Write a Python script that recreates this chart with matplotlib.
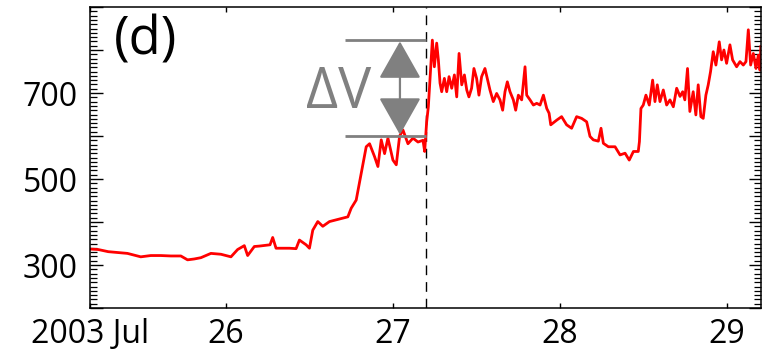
import matplotlib
matplotlib.use("Agg")
import matplotlib.pyplot as plt
from matplotlib.ticker import FixedLocator, MultipleLocator, FuncFormatter

plt.rcParams['font.family'] = ['Open Sans', 'DejaVu Sans']

# Day of July 2003 (fractional) and solar wind speed (km/s)
days = [25.19, 25.235, 25.295, 25.35, 25.41, 25.49, 25.55, 25.61, 25.67, 25.73,
        25.77, 25.81, 25.85, 25.91, 25.97, 26.03, 26.07, 26.11, 26.13, 26.17,
        26.20, 26.264, 26.28, 26.30, 26.38, 26.42, 26.44, 26.48, 26.50, 26.52,
        26.55, 26.58, 26.62, 26.68, 26.73, 26.75, 26.78, 26.81, 26.84, 26.86,
        26.89, 26.91, 26.93, 26.95, 26.97, 27.00, 27.02, 27.04, 27.06, 27.09,
        27.12, 27.15, 27.18, 27.19, 27.202,
        27.212, 27.228, 27.236, 27.248, 27.262, 27.272, 27.282, 27.292, 27.308, 27.322,
        27.336, 27.352, 27.368, 27.382, 27.396, 27.412, 27.428, 27.442, 27.455, 27.471,
        27.485, 27.501, 27.515, 27.531, 27.551, 27.567, 27.581, 27.601, 27.621, 27.641,
        27.657, 27.671, 27.685, 27.701, 27.721, 27.735, 27.751, 27.771, 27.791, 27.801,
        27.821, 27.841, 27.861, 27.881, 27.901, 27.921, 27.935,
        27.945, 27.981, 28.010, 28.040, 28.070, 28.100, 28.130, 28.160, 28.180,
        28.200, 28.230, 28.246, 28.260, 28.290, 28.330, 28.360, 28.390, 28.415, 28.440,
        28.469, 28.476, 28.485,
        28.499, 28.515, 28.535, 28.555, 28.569, 28.583, 28.599, 28.619, 28.639, 28.659,
        28.679, 28.699, 28.719, 28.735, 28.748, 28.764, 28.778, 28.798, 28.814, 28.828,
        28.844, 28.858, 28.874, 28.888, 28.902, 28.918, 28.934, 28.954, 28.968, 28.982,
        28.998, 29.018, 29.034, 29.058, 29.078, 29.098, 29.114, 29.128, 29.142, 29.158,
        29.174, 29.188, 29.198, 29.203]
speed = [337, 336, 331, 329, 327, 319, 322, 322, 321, 321,
         312, 314, 317, 327, 325, 319, 336, 345, 322, 343,
         344, 347, 364, 339, 339, 338, 358, 347, 339, 381,
         401, 390, 401, 407, 412, 432, 451, 513, 575, 582,
         552, 529, 591, 559, 595, 544, 533, 600, 614, 582,
         595, 586, 590, 564, 633,
         668, 769, 823, 761, 816, 777, 723, 703, 734, 703,
         738, 711, 742, 691, 792, 719, 742, 707, 691, 711,
         757, 734, 695, 738, 757, 730, 707, 680, 699, 684,
         660, 703, 726, 703, 684, 660, 695, 684, 761, 695,
         684, 672, 676, 672, 695, 664, 653,
         626, 637, 645, 626, 618, 645, 641, 633, 599,
         591, 588, 618, 583, 575, 575, 556, 560, 544, 564,
         564, 587, 664,
         672, 695, 672, 730, 680, 719, 680, 707, 672, 684,
         668, 711, 692, 703, 684, 757, 657, 703, 649, 719,
         645, 641, 695, 719, 750, 796, 765, 819, 777, 800,
         769, 812, 777, 761, 773, 765, 773, 847, 765, 792,
         757, 788, 753, 808]

x_start, x_end = 25.186, 29.204
xtick_pos = [x_start, 26, 27, 28, 29]
xtick_labels = ['2003 Jul', '26', '27', '28', '29']
ytick_pos = [200, 300, 400, 500, 600, 700, 800, 900]
ytick_shown = [300, 500, 700]
shock_day = 27.198
dv_low, dv_high = 600, 823

fig = plt.figure(figsize=(7.84, 3.53), dpi=100)
ax = fig.add_axes([90/784, 45/353, 671/784, 301/353])

ax.plot(days, speed, color='#ff0000', lw=2.0, zorder=2)
ax.axvline(shock_day, color='black', lw=1.0, dashes=(7, 5), zorder=1)

# Delta V annotation
ax.hlines([dv_high, dv_low], 26.713, shock_day, color='#808080', lw=2.0, zorder=3)
ax.annotate('', xy=(27.042, dv_high - 3), xytext=(27.042, dv_low + 3),
            arrowprops=dict(arrowstyle='<|-|>,head_length=0.85,head_width=0.48',
                            color='#808080', lw=1.6, shrinkA=0, shrinkB=0,
                            mutation_scale=28),
            zorder=4)
ax.text(26.677, 665, '\u0394V', color='#808080', fontsize=40,
        ha='center', va='baseline', zorder=4)
ax.text(0.036, 0.841, '(d)', transform=ax.transAxes, fontsize=38,
        ha='left', va='baseline', color='black')

ax.set_xlim(x_start, x_end)
ax.set_ylim(200, 900)
ax.xaxis.set_major_locator(FixedLocator(xtick_pos))
ax.set_xticklabels(xtick_labels)
ax.yaxis.set_major_locator(FixedLocator(ytick_pos))
ax.yaxis.set_minor_locator(MultipleLocator(10))
ax.yaxis.set_major_formatter(FuncFormatter(
    lambda v, p: f'{int(round(v))}' if int(round(v)) in ytick_shown else ''))

ax.tick_params(axis='y', which='major', direction='in', length=9, width=1.0,
               left=True, right=True, labelsize=23, pad=9)
ax.tick_params(axis='y', which='minor', direction='in', length=5, width=0.9,
               left=True, right=True)
ax.tick_params(axis='x', which='major', direction='in', length=3.5, width=1.0,
               top=True, bottom=True, labelsize=23, pad=7)
for s in ax.spines.values():
    s.set_linewidth(1.1)

fig.savefig('out.png', dpi=100)
